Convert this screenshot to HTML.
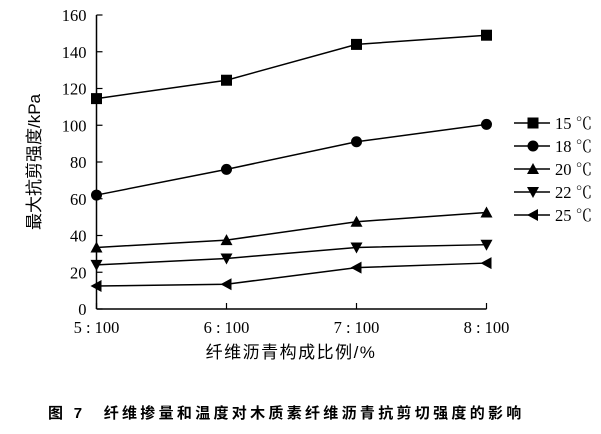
<!DOCTYPE html>
<html><head><meta charset="utf-8"><style>
body{margin:0;background:#fff;}
svg text{font-family:"Liberation Serif","Noto Serif CJK SC",serif;fill:#000;}
</style></head><body>
<svg width="601" height="429" xmlns="http://www.w3.org/2000/svg">
<g id="axes"></g>
<g id="series"></g>
<g id="legend"></g>
<text x="40" y="162" transform="rotate(-90 40 162)" text-anchor="middle" font-size="17" style="font-family:'Liberation Sans','Noto Sans CJK SC',sans-serif">最大抗剪强度/kPa</text>
<text x="291" y="358" text-anchor="middle" font-size="17" letter-spacing="1.5" style="font-family:'Liberation Sans','Noto Sans CJK SC',sans-serif">纤维沥青构成比例/%</text>
<text x="48" y="418" font-size="15" font-weight="bold" letter-spacing="3.3" style="font-family:'Liberation Sans','Noto Sans CJK SC',sans-serif">图 7　纤维掺量和温度对木质素纤维沥青抗剪切强度的影响</text>
</svg>
<script>
const categories=["5 : 100","6 : 100","7 : 100","8 : 100"];
const yTicks=[0,20,40,60,80,100,120,140,160];
const seriesNames=["15 ℃","18 ℃","20 ℃","22 ℃","25 ℃"];
const s15=[114.5,124.5,144,149];
const s18=[62,76,91,100.5];
const s20=[33.5,37.5,47.5,52.5];
const s22=[24,27.5,33.5,35];
const s25=[12.5,13.5,22.5,25];
const allSeries=[s15,s18,s20,s22,s25];
const markers=["square","circle","up","down","left"];
const NS="http://www.w3.org/2000/svg";
const x0=96.5,xStep=130,yBase=309,yTop=15,yMax=160;
const X=i=>x0+i*xStep;
const Y=v=>yBase-(v/yMax)*(yBase-yTop);
function mk(t,a,p){const e=document.createElementNS(NS,t);for(const k in a)e.setAttribute(k,a[k]);p.appendChild(e);return e;}
const ax=document.getElementById('axes');
let l=mk('line',{x1:x0,y1:Y(yMax),x2:x0,y2:yBase,stroke:'#000','stroke-width':1.5},ax);


l=mk('line',{x1:x0,y1:yBase,x2:X(3),y2:yBase,stroke:'#000','stroke-width':1.5},ax);


yTicks.forEach(v=>{
 mk('line',{x1:x0,y1:Y(v),x2:x0+6,y2:Y(v),stroke:'#000','stroke-width':1.2},ax);
 const t=mk('text',{x:x0-10,y:Y(v)+6,'text-anchor':'end','font-size':16.5},ax);t.textContent=v;
 
 
});
categories.forEach((c,i)=>{
 mk('line',{x1:X(i),y1:yBase,x2:X(i),y2:yBase-6,stroke:'#000','stroke-width':1.2},ax);
 const t=mk('text',{x:X(i),y:yBase+24,'text-anchor':'middle','font-size':16.5},ax);t.textContent=c;
 
 
});
function marker(type,cx,cy,p){
 let e;
 if(type==='square')e=mk('rect',{x:cx-5.5,y:cy-5.5,width:11,height:11},p);
 else if(type==='circle')e=mk('circle',{cx:cx,cy:cy,r:5.5},p);
 else if(type==='up')e=mk('polygon',{points:`${cx-6},${cy+5} ${cx+6},${cy+5} ${cx},${cy-6}`},p);
 else if(type==='down')e=mk('polygon',{points:`${cx-6},${cy-5} ${cx+6},${cy-5} ${cx},${cy+6}`},p);
 else e=mk('polygon',{points:`${cx+5},${cy-6} ${cx+5},${cy+6} ${cx-6},${cy}`},p);
 e.setAttribute('fill','#000');
 
 
}
const sg=document.getElementById('series');
allSeries.forEach((s,k)=>{
 const g=mk('g',{},sg);
 
 
 const pl=mk('polyline',{points:s.map((v,i)=>X(i)+','+Y(v)).join(' '),fill:'none',stroke:'#000','stroke-width':1.5},g);
 
 
 s.forEach((v,i)=>marker(markers[k],X(i),Y(v),g));
});
const lg=document.getElementById('legend');
seriesNames.forEach((n,k)=>{
 const y=123+k*23;
 const g=mk('g',{},lg);
 
 
 mk('line',{x1:514,y1:y,x2:550,y2:y,stroke:'#000','stroke-width':1.5},g);
 marker(markers[k],533,y,g);
 const t=mk('text',{x:555,y:y+6,'font-size':16.5},g);t.textContent=n;
});
</script>
</body></html>
